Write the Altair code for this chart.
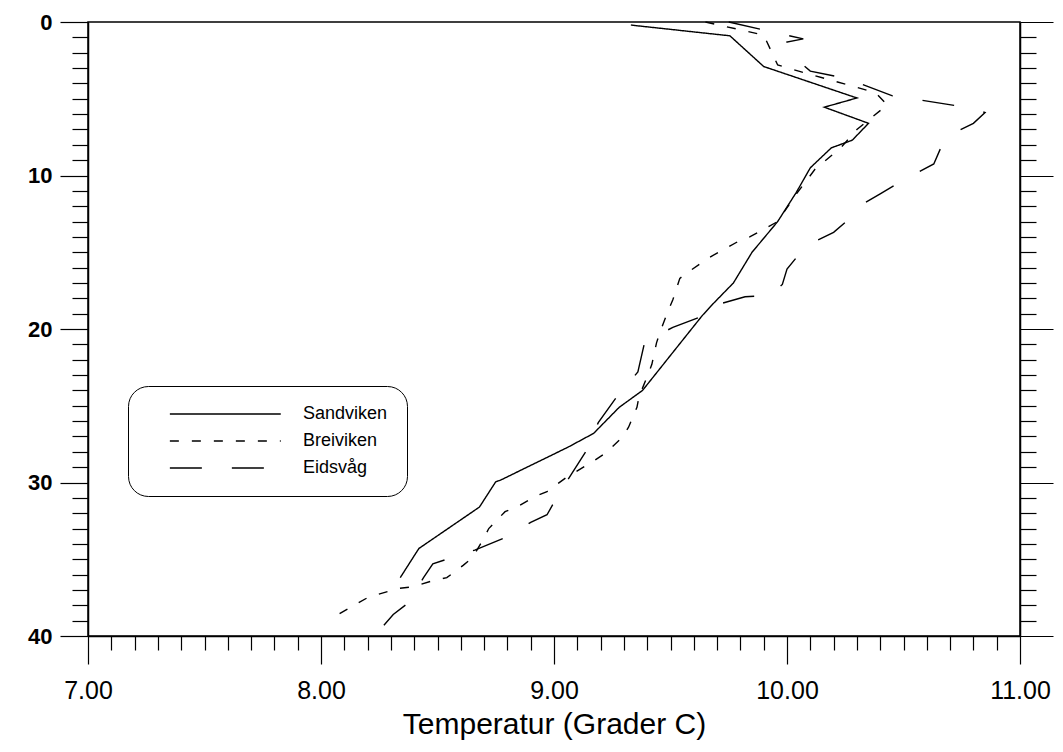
import altair as alt
import pandas as pd

series_names = ["Sandviken", "Breiviken", "Eidsvåg"]

sand_temp = [9.33, 9.755, 9.90, 10.30, 10.16, 10.35, 10.28, 10.19, 10.10, 10.04, 9.96, 9.85,
             9.77, 9.68, 9.635, 9.38, 9.28, 9.17, 9.06, 8.77, 8.75, 8.68, 8.42, 8.34]
sand_depth = [0.2, 0.9, 2.9, 4.95, 5.55, 6.6, 7.7, 8.2, 9.5, 11.1, 13.0, 15.0,
              17.0, 18.4, 19.15, 24.0, 25.1, 26.8, 27.7, 29.85, 29.95, 31.6, 34.3, 36.2]

brei_temp = [9.65, 9.90, 9.96, 10.05, 10.38, 10.43, 10.30, 10.23, 10.12, 10.04, 9.96, 9.84,
             9.79, 9.70, 9.66, 9.575, 9.54, 9.51, 9.49, 9.455, 9.44, 9.42, 9.40, 9.365,
             9.356, 9.32, 9.29, 9.22, 9.17, 9.05, 8.97, 8.92, 8.84, 8.79, 8.72, 8.70,
             8.65, 8.61, 8.54, 8.48, 8.39, 8.33, 8.20, 8.05]
brei_depth = [0.0, 0.85, 2.8, 3.2, 4.6, 5.4, 7.0, 8.2, 9.6, 11.2, 13.0, 14.0,
              14.3, 15.05, 15.4, 16.3, 16.7, 18.1, 18.8, 20.2, 20.9, 22.3, 23.1, 24.4,
              25.1, 26.4, 27.1, 28.1, 28.6, 29.7, 30.6, 30.9, 31.6, 31.9, 33.0, 33.6,
              34.9, 35.4, 36.2, 36.4, 36.8, 36.9, 37.5, 38.8]

eids_temp = [9.75, 10.07, 10.0, 10.02, 10.10, 10.26, 10.45, 10.79, 10.85, 10.80, 10.68, 10.63,
             10.51, 10.40, 10.32, 10.30, 10.20, 10.08, 10.0, 9.98, 9.93, 9.82, 9.68, 9.63,
             9.51, 9.39, 9.36, 9.27, 9.19, 9.14, 9.06, 9.0, 8.97, 8.90, 8.79, 8.66,
             8.54, 8.48, 8.44, 8.37, 8.31, 8.27]
eids_depth = [0.0, 1.1, 1.3, 2.15, 3.2, 3.7, 4.8, 5.6, 5.9, 6.6, 7.5, 9.25,
              10.2, 11.2, 11.9, 12.4, 13.7, 14.6, 16.1, 17.1, 17.8, 17.9, 18.5, 19.2,
              19.9, 20.8, 22.8, 24.4, 26.1, 27.9, 29.8, 31.3, 32.1, 32.6, 33.6, 34.4,
              35.0, 35.3, 36.2, 37.9, 38.6, 39.3]

x_ticks = [v / 10 for v in range(70, 111)]
y_ticks = list(range(0, 41))
dash_styles = [[1, 0], [9, 13], [32, 30]]

rows = []
for name, temps, depths in [("Sandviken", sand_temp, sand_depth),
                            ("Breiviken", brei_temp, brei_depth),
                            ("Eidsvåg", eids_temp, eids_depth)]:
    for i, (t, d) in enumerate(zip(temps, depths)):
        rows.append({"series": name, "temp": t, "depth": d, "idx": i})
df = pd.DataFrame(rows)

font = "Liberation Sans"
x_scale = alt.Scale(domain=[7, 11], nice=False, zero=False)
y_scale = alt.Scale(domain=[0, 40], reverse=True, nice=False, zero=False)

x_axis = alt.Axis(
    values=x_ticks, title="Temperatur (Grader C)", grid=False, orient="bottom",
    labelExpr="abs(datum.value - round(datum.value)) < 0.001 ? format(datum.value, '.2f') : ''",
    labelOverlap=False, labelFlush=False, labelBound=False,
    tickSize={"condition": {"test": "abs(datum.value - round(datum.value)) < 0.001", "value": 28}, "value": 14},
    tickColor="black", tickWidth=1.2, domainColor="black", domainWidth=1.5,
    labelFont=font, labelFontSize=25, labelColor="black", labelPadding=14,
    titleFont=font, titleFontSize=30, titleFontWeight="normal", titleColor="black", titlePadding=6,
)
y_axis_left = alt.Axis(
    values=y_ticks, title=None, grid=False, orient="left",
    labelExpr="datum.value % 10 === 0 ? datum.label : ''",
    labelOverlap=False, labelFlush=False, labelBound=False,
    tickSize={"condition": {"test": "datum.value % 10 === 0", "value": 28}, "value": 16},
    tickColor="black", tickWidth=1.2, domainColor="black", domainWidth=1.5,
    labelFont=font, labelFontSize=22, labelFontWeight="bold", labelColor="black", labelPadding=8,
)
y_axis_right = alt.Axis(
    values=y_ticks, title=None, grid=False, orient="right", labels=False,
    tickSize={"condition": {"test": "datum.value % 10 === 0", "value": 33}, "value": 16},
    tickColor="black", tickWidth=1.2, domainColor="black", domainWidth=1.5,
)
legend = alt.Legend(
    title=None, orient="none", legendX=40, legendY=364,
    strokeColor="black", cornerRadius=20, padding=19, fillColor="white",
    symbolType="M2.5,0H22.5", symbolSize=123, symbolStrokeWidth=1.3,
    symbolStrokeColor="black", labelFont=font, labelFontSize=18, labelColor="black",
    labelOffset=138, rowPadding=9,
)

lines = alt.Chart(df).mark_line(color="black", strokeWidth=1.4).encode(
    x=alt.X("temp:Q", scale=x_scale, axis=x_axis),
    y=alt.Y("depth:Q", scale=y_scale, axis=y_axis_left),
    strokeDash=alt.StrokeDash("series:N", scale=alt.Scale(domain=series_names, range=dash_styles), legend=legend),
    order=alt.Order("idx:Q"),
)
right = alt.Chart(df).mark_point(opacity=0).encode(
    x=alt.X("temp:Q", scale=x_scale, axis=x_axis),
    y=alt.Y("depth:Q", scale=y_scale, axis=y_axis_right),
)

chart = alt.layer(lines, right).resolve_axis(y="independent").properties(
    width=932, height=614,
    padding={"left": 80, "top": 14, "right": 35, "bottom": 120},
    autosize=alt.AutoSizeParams(type="none"),
    background="white",
).configure_view(stroke="black", strokeWidth=1.5)

chart.save("out.html", embed_options={"renderer": "svg", "actions": False})
